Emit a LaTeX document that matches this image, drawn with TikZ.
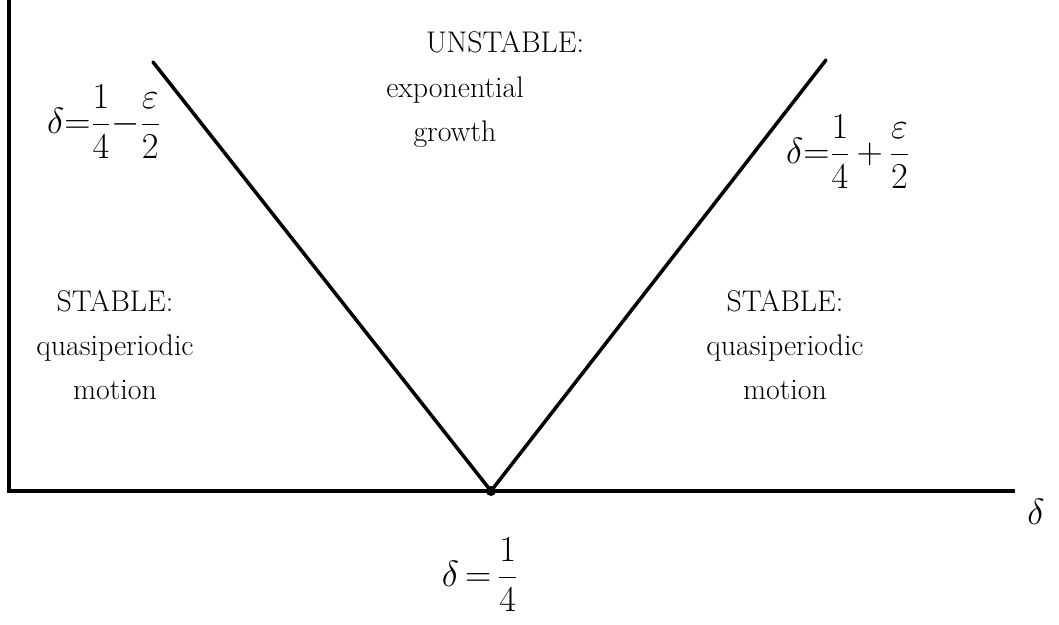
\documentclass[tikz,border=0pt]{standalone}
\usepackage{amsmath}
\usepackage{amssymb}
\usepackage{tikz}
\usetikzlibrary{positioning}

\begin{document}
\begin{tikzpicture}[x=0.02cm, y=-0.02cm, every node/.style={inner sep=2pt},
    region/.style={align=center, font=\fontsize{17}{25}\selectfont},
    bound/.style={font=\fontsize{21}{26}\selectfont},
    axis/.style={line width=2.4pt},
    curve/.style={line width=2pt, line cap=round}]
    \useasboundingbox (0,0) rectangle (1059,625);

    % corners of the axes
    \coordinate (top) at (9,0);
    \coordinate (origin) at (9,491);
    \coordinate (axend) at (1015,491);
    \coordinate (vertex) at (491,491);

    % ends of the boundary lines
    \coordinate (lend) at (153,62);
    \coordinate (rend) at (826,60);

    % labels
    \node (delta) at (1036,512) {\fontsize{22}{24}\selectfont$\delta$};
    \node (quarter) [bound] at (480,575) {$\delta\,{=}\,\dfrac{1}{4}$};
    \node (lower) [bound] at (104,122) {$\delta{=}\dfrac{1}{4}{-}\dfrac{\varepsilon}{2}$};
    \node (upper) [bound] at (848,152) {$\delta{=}\dfrac{1}{4}\,{+}\,\dfrac{\varepsilon}{2}$};

    \node (unstable) [region] at (505,42) {UNSTABLE:};
    \node (growth) [region] at (455,112) {exponential\\growth};
    \node (stableL) [region] at (115,345) {STABLE:\\quasiperiodic\\motion};
    \node (stableR) [region] at (785,345) {STABLE:\\quasiperiodic\\motion};

    % axes
    \draw[axis] (top) -- (origin) -- (axend);

    % stability boundaries
    \draw[curve] (vertex) -- (lend);
    \draw[curve] (vertex) -- (rend);
    \fill (vertex) circle (5);
\end{tikzpicture}
\end{document}
